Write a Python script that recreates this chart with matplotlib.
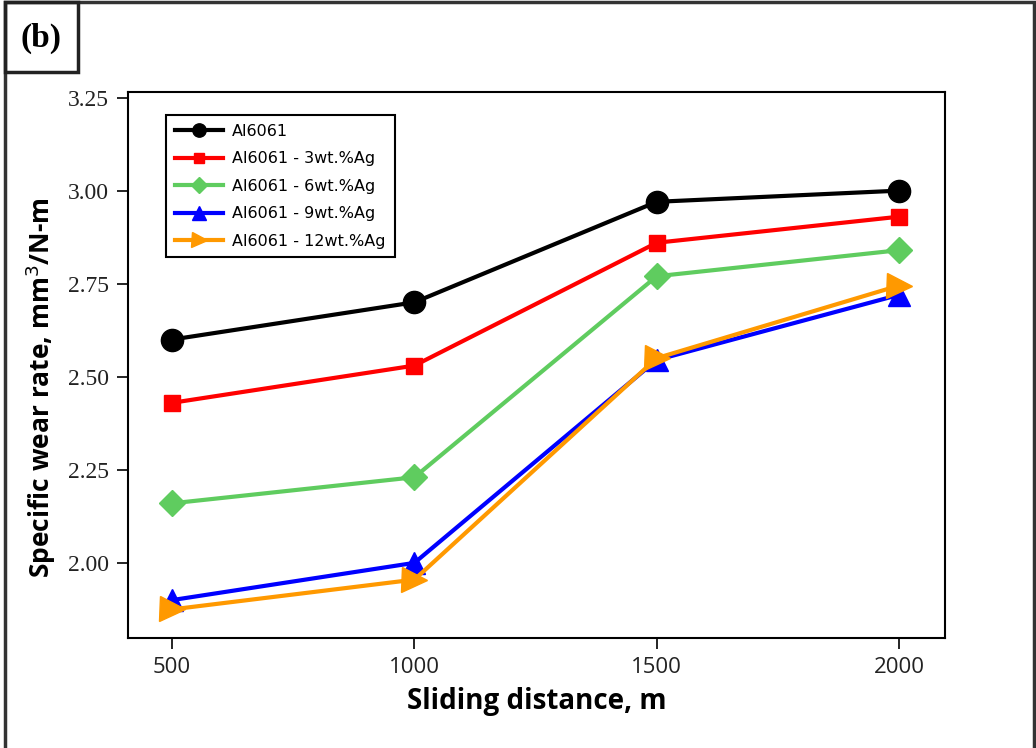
import matplotlib
matplotlib.use("Agg")
import matplotlib.pyplot as plt
from matplotlib.patches import Rectangle

# sliding distance (m)
distance = [500, 1000, 1500, 2000]

# specific wear rate, mm^3/N-m
al6061 = [2.60, 2.70, 2.97, 3.00]
ag3 = [2.43, 2.53, 2.86, 2.93]
ag6 = [2.16, 2.23, 2.77, 2.84]
ag9 = [1.90, 2.00, 2.545, 2.72]
ag12 = [1.875, 1.955, 2.55, 2.745]

labels = ["Al6061", "Al6061 - 3wt.%Ag", "Al6061 - 6wt.%Ag",
          "Al6061 - 9wt.%Ag", "Al6061 - 12wt.%Ag"]
series = [al6061, ag3, ag6, ag9, ag12]
colors = ["#000000", "#ff0000", "#5fcc5f", "#0000ff", "#ff9900"]
markers = ["o", "s", "D", "^", ">"]
msizes = [16, 11, 13, 16, 18]

fig = plt.figure(figsize=(10.36, 7.48), dpi=100)
ax = fig.add_axes([0.1236, 0.147, 0.7886, 0.730])

for y, lab, c, m, ms in zip(series, labels, colors, markers, msizes):
    ax.plot(distance, y, color=c, marker=m, markersize=ms, linewidth=3,
            label=lab)

ax.set_xlim(409, 2095)
ax.set_ylim(1.798, 3.265)
ax.set_xticks(distance)
ax.set_yticks([2.00, 2.25, 2.50, 2.75, 3.00, 3.25])
ax.set_yticklabels(["2.00", "2.25", "2.50", "2.75", "3.00", "3.25"],
                   family=["Liberation Serif", "DejaVu Serif"], fontsize=17,
                   color="#222222")
ax.set_xticklabels([str(d) for d in distance],
                   family=["Open Sans", "DejaVu Sans"],
                   fontsize=16, color="#222222")
ax.tick_params(direction="out", length=8, width=1.2, pad=6)
for s in ax.spines.values():
    s.set_linewidth(1.5)

ax.set_xlabel("Sliding distance, m", fontsize=20, fontweight="bold",
              family=["Open Sans", "DejaVu Sans"], labelpad=6)
ax.set_ylabel("Specific wear rate, mm$^3$/N-m", fontsize=19,
              fontweight="bold", family=["Open Sans", "DejaVu Sans"])
ax.yaxis.set_label_coords(-0.086, 0.458)

leg = ax.legend(loc="upper left", bbox_to_anchor=(0.0465, 0.958),
                borderaxespad=0, markerscale=0.6, handlelength=3.0,
                fancybox=False, edgecolor="black", framealpha=1,
                borderpad=0.55, labelspacing=0.78, handletextpad=0.6,
                prop={"family": "DejaVu Sans", "size": 11.5})
leg.get_frame().set_linewidth(1.5)

# outer frame and panel tag
fig.patches.append(Rectangle((5 / 1036, -0.01), 1029 / 1036, 1.0 - 2 / 748 + 0.01,
                             transform=fig.transFigure, fill=False,
                             edgecolor="#333333", linewidth=2.5))
fig.patches.append(Rectangle((5 / 1036, 1 - 72 / 748), 73 / 1036, 70 / 748,
                             transform=fig.transFigure, fill=False,
                             edgecolor="#222222", linewidth=2.5))
fig.text(41 / 1036, 1 - 38 / 748, "(b)", ha="center", va="center",
         fontsize=24, fontweight="bold", family="Liberation Serif")

fig.savefig("out.png", dpi=100)
